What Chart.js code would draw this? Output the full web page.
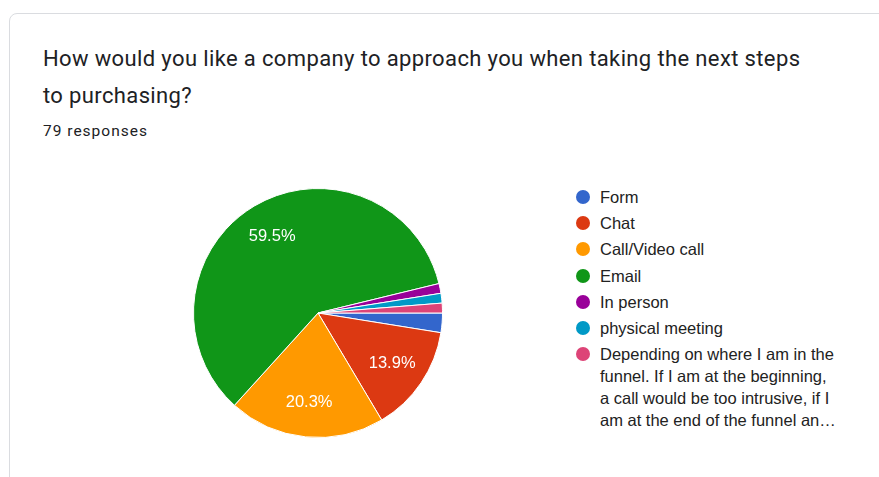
<!DOCTYPE html>
<html>
<head>
<meta charset="utf-8">
<script src="https://cdn.jsdelivr.net/npm/chart.js@4.4.1/dist/chart.umd.min.js"></script>
<style>
    html, body { margin: 0; padding: 0; background: #fff; width: 879px; height: 477px; overflow: hidden; }
    .card {
        position: absolute; left: 9px; top: 13px; width: 900px; height: 500px;
        border: 1px solid #dadce0; border-radius: 8px; background: #fff;
    }
    .title {
        position: absolute; left: 43px; top: 40px; width: 820px;
        font-family: Roboto, "Noto Sans", sans-serif; font-size: 22px; letter-spacing: 0.37px;
        line-height: 37px; color: #202124;
    }
    .count {
        position: absolute; left: 43px; top: 122px;
        font-family: Roboto, sans-serif; font-size: 15.5px; letter-spacing: 1px; color: #202124;
    }
    #pieBox { position: absolute; left: 183px; top: 178px; width: 270px; height: 270px; }
    #legend {
        position: absolute; left: 576px; top: 186px; width: 260px;
        font-family: "Liberation Sans", Arial, sans-serif; font-size: 16.5px; color: #222;
    }
    #legend .item { position: relative; padding-left: 24px; margin-bottom: 4.2px; line-height: 22px; }
    #legend .dot {
        position: absolute; left: 0; top: 4px; width: 14px; height: 14px; border-radius: 50%;
    }
</style>
</head>
<body>
<div class="card"></div>
<div class="title">How would you like a company to approach you when taking the next steps<br>to purchasing?</div>
<div class="count">79 responses</div>
<div id="pieBox"><canvas id="pieChart" width="270" height="270"></canvas></div>
<div id="legend"></div>

<script>
// Respuestas por opción
const labels = [
    'Form',
    'Chat',
    'Call/Video call',
    'Email',
    'In person',
    'physical meeting',
    'Depending on where I am in the funnel. If I am at the beginning, a call would be too intrusive, if I am at the end of the funnel an\u2026'
];
const responses = [2, 11, 16, 47, 1, 1, 1];
const colors = ['#3366cc', '#dc3912', '#ff9900', '#109618', '#990099', '#0099c6', '#dd4477'];

// Porcentajes dentro de las porciones grandes
const sliceLabels = {
    id: 'sliceLabels',
    afterDatasetsDraw(chart) {
        const ctx = chart.ctx;
        const data = chart.data.datasets[0].data;
        const total = data.reduce((a, b) => a + b, 0);
        ctx.save();
        ctx.fillStyle = '#fff';
        ctx.font = '16.5px "Liberation Sans", Arial, sans-serif';
        ctx.textAlign = 'center';
        ctx.textBaseline = 'middle';
        chart.getDatasetMeta(0).data.forEach((arc, i) => {
            const pct = data[i] / total * 100;
            if (pct < 5) return;
            const mid = (arc.startAngle + arc.endAngle) / 2;
            const r = arc.outerRadius * 0.72;
            ctx.fillText(pct.toFixed(1) + '%', arc.x + Math.cos(mid) * r, arc.y + Math.sin(mid) * r);
        });
        ctx.restore();
    }
};

const pie = new Chart(document.getElementById('pieChart'), {
    type: 'pie',
    data: {
        labels: labels,
        datasets: [{
            data: responses,
            backgroundColor: colors,
            borderColor: '#fff',
            borderWidth: 1
        }]
    },
    options: {
        responsive: false,
        animation: false,
        rotation: 90,
        layout: { padding: 10 },
        plugins: {
            legend: { display: false },
            tooltip: { enabled: false }
        }
    },
    plugins: [sliceLabels]
});

// Leyenda en HTML para poder partir el texto largo
const legendEl = document.getElementById('legend');
labels.forEach((text, i) => {
    const item = document.createElement('div');
    item.className = 'item';
    const dot = document.createElement('span');
    dot.className = 'dot';
    dot.style.background = colors[i];
    item.appendChild(dot);
    item.appendChild(document.createTextNode(text));
    legendEl.appendChild(item);
});
</script>
</body>
</html>
